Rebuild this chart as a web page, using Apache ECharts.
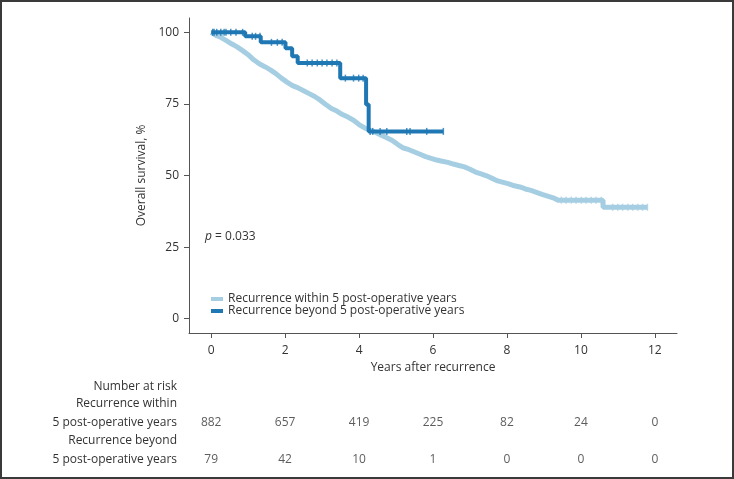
<!DOCTYPE html>
<html><head><meta charset="utf-8">
<script src="https://cdn.jsdelivr.net/npm/echarts@6/dist/echarts.min.js"></script>
<style>
html,body{margin:0;padding:0;background:#fff}
#c{position:absolute;left:0;top:0;width:734px;height:479px}
#f{position:absolute;left:0;top:0;width:734px;height:479px;box-sizing:border-box;border:2px solid #3a3a3a;pointer-events:none}
</style></head><body><div id="c"></div><div id="f"></div>
<script>
const xTicks=[0,2,4,6,8,10,12];
const yTicks=[0,25,50,75,100];
const seriesNames=['Recurrence within 5 post-operative years','Recurrence beyond 5 post-operative years'];
const withinCurve=[[0,100],[0.1,99.2],[0.25,98.3],[0.4,97.2],[0.55,96.0],[0.7,94.9],[0.85,93.6],[1.0,92.2],[1.15,90.4],[1.3,89.0],[1.45,88.0],[1.6,86.9],[1.75,85.6],[1.9,84.0],[2.05,82.6],[2.2,81.4],[2.35,80.6],[2.5,79.6],[2.65,78.6],[2.8,77.6],[2.95,76.3],[3.1,74.8],[3.25,73.4],[3.4,72.5],[3.55,71.3],[3.7,70.4],[3.85,69.3],[4.0,67.8],[4.15,66.6],[4.3,65.8],[4.45,65.0],[4.6,64.1],[4.75,63.2],[4.9,62.2],[5.05,60.8],[5.2,59.6],[5.35,59.0],[5.5,58.2],[5.65,57.4],[5.8,56.6],[5.95,56.0],[6.1,55.4],[6.25,55.0],[6.4,54.6],[6.55,54.0],[6.7,53.5],[6.85,53.0],[7.0,52.2],[7.15,51.2],[7.3,50.6],[7.45,49.9],[7.6,49.0],[7.75,48.1],[7.9,47.6],[8.05,47.1],[8.2,46.4],[8.35,46.0],[8.5,45.3],[8.65,44.8],[8.8,44.1],[8.95,43.4],[9.1,42.8],[9.25,42.2],[9.38,41.4],[10.6,41.4],[10.6,38.9],[11.8,38.9]];
const beyondCurve=[[0,100],[0.92,98.6],[1.34,96.5],[2.01,94.4],[2.19,91.6],[2.34,89.3],[3.49,84.0],[4.19,74.8],[4.26,65.4],[6.28,65.4]];
const withinCensor=[0.05,0.12,0.2,0.3,9.47,9.6,9.74,9.87,10.01,10.14,10.28,10.41,10.55,10.86,11.0,11.13,11.27,11.4,11.54,11.67,11.8];
const beyondCensor=[0.04,0.08,0.15,0.26,0.35,0.4,0.53,0.67,0.85,1.11,1.2,1.32,1.63,1.79,1.92,2.6,2.73,2.87,3.0,3.13,3.27,3.4,3.63,3.85,3.99,4.11,4.3,4.37,4.57,4.75,5.29,5.38,5.83,6.28];
const riskWithin=[882,657,419,225,82,24,0];
const riskBeyond=[79,42,10,1,0,0,0];
const rowLabels=['Number at risk','Recurrence within','5 post-operative years','Recurrence beyond','5 post-operative years'];
const pText='= 0.033';

const FONT='Open Sans';
const FS=12;
const TXT='#333';
const AX='#555';
const C1='#a6cee3', C2='#1f78b4';

function survAt(curve,t){let s=curve[0][1];for(const p of curve){if(p[0]<=t)s=p[1];else break;}return s;}

const chart=echarts.init(document.getElementById('c'),null,{renderer:'canvas'});
const rowY=[387,404,423,441,460];
const graphics=rowLabels.map((t,i)=>({type:'text',x:177,y:rowY[i],style:{text:t,align:'right',verticalAlign:'middle',font:FS+'px "'+FONT+'"',fill:TXT}}));
graphics.push({type:'text',x:205,y:237,style:{text:'{i|p} '+pText,verticalAlign:'middle',font:FS+'px "'+FONT+'"',fill:TXT,rich:{i:{fontStyle:'italic',fontFamily:FONT,fontSize:FS,fill:TXT}}}});

chart.setOption({
  animation:false,
  textStyle:{fontFamily:FONT},
  grid:[{left:189,right:57,top:18,bottom:146},{left:189,right:57,top:386,bottom:19}],
  xAxis:[{type:'value',gridIndex:0,min:-0.6,max:12.6,
    axisLine:{show:true,onZero:false,lineStyle:{color:AX,width:1}},
    axisTick:{show:true,length:5,customValues:xTicks,lineStyle:{color:AX}},
    axisLabel:{customValues:xTicks,margin:12,color:TXT,fontSize:FS,fontFamily:FONT},
    splitLine:{show:false},
    name:'Years after recurrence',nameLocation:'middle',nameGap:29,nameTextStyle:{color:TXT,fontSize:FS,fontFamily:FONT}},
   {type:'value',gridIndex:1,min:-0.6,max:12.6,show:false}],
  yAxis:[{type:'value',gridIndex:0,min:-5,max:105,
    axisLine:{show:true,onZero:false,lineStyle:{color:AX,width:1}},
    axisTick:{show:true,length:5,customValues:yTicks,lineStyle:{color:AX}},
    axisLabel:{customValues:yTicks,margin:10,color:TXT,fontSize:FS,fontFamily:FONT},
    splitLine:{show:false},
    name:'Overall survival, %',nameLocation:'middle',nameGap:39,nameTextStyle:{color:TXT,fontSize:FS,fontFamily:FONT}},
   {type:'value',gridIndex:1,min:0,max:2,show:false}],
  legend:{orient:'vertical',left:206,top:288,itemWidth:12,itemHeight:4,itemGap:0,icon:'rect',
    data:seriesNames,textStyle:{color:TXT,fontSize:FS,fontFamily:FONT}},
  graphic:graphics,
  series:[
    {name:seriesNames[0],type:'line',data:withinCurve,showSymbol:false,
      lineStyle:{color:C1,width:5},itemStyle:{color:C1},z:2},
    {name:'c0',type:'scatter',data:withinCensor.map(t=>[t,survAt(withinCurve,t)]),symbol:'rect',symbolSize:[1.5,7],
      itemStyle:{color:C1},z:3,silent:true},
    {name:seriesNames[1],type:'line',step:'end',data:beyondCurve,showSymbol:false,
      lineStyle:{color:C2,width:4},itemStyle:{color:C2},z:4},
    {name:'c1',type:'scatter',data:beyondCensor.map(t=>[t,survAt(beyondCurve,t)]),symbol:'rect',symbolSize:[1.5,7],
      itemStyle:{color:C2},z:5,silent:true},
    {name:'r0',type:'scatter',xAxisIndex:1,yAxisIndex:1,data:xTicks.map((x,i)=>[x,1,riskWithin[i]]),symbolSize:0,silent:true,
      label:{show:true,position:'inside',formatter:p=>String(p.value[2]),color:TXT,fontSize:FS,fontFamily:FONT}},
    {name:'r1',type:'scatter',xAxisIndex:1,yAxisIndex:1,data:xTicks.map((x,i)=>[x,0,riskBeyond[i]]),symbolSize:0,silent:true,
      label:{show:true,position:'inside',formatter:p=>String(p.value[2]),color:TXT,fontSize:FS,fontFamily:FONT}}
  ]
});
</script></body></html>
